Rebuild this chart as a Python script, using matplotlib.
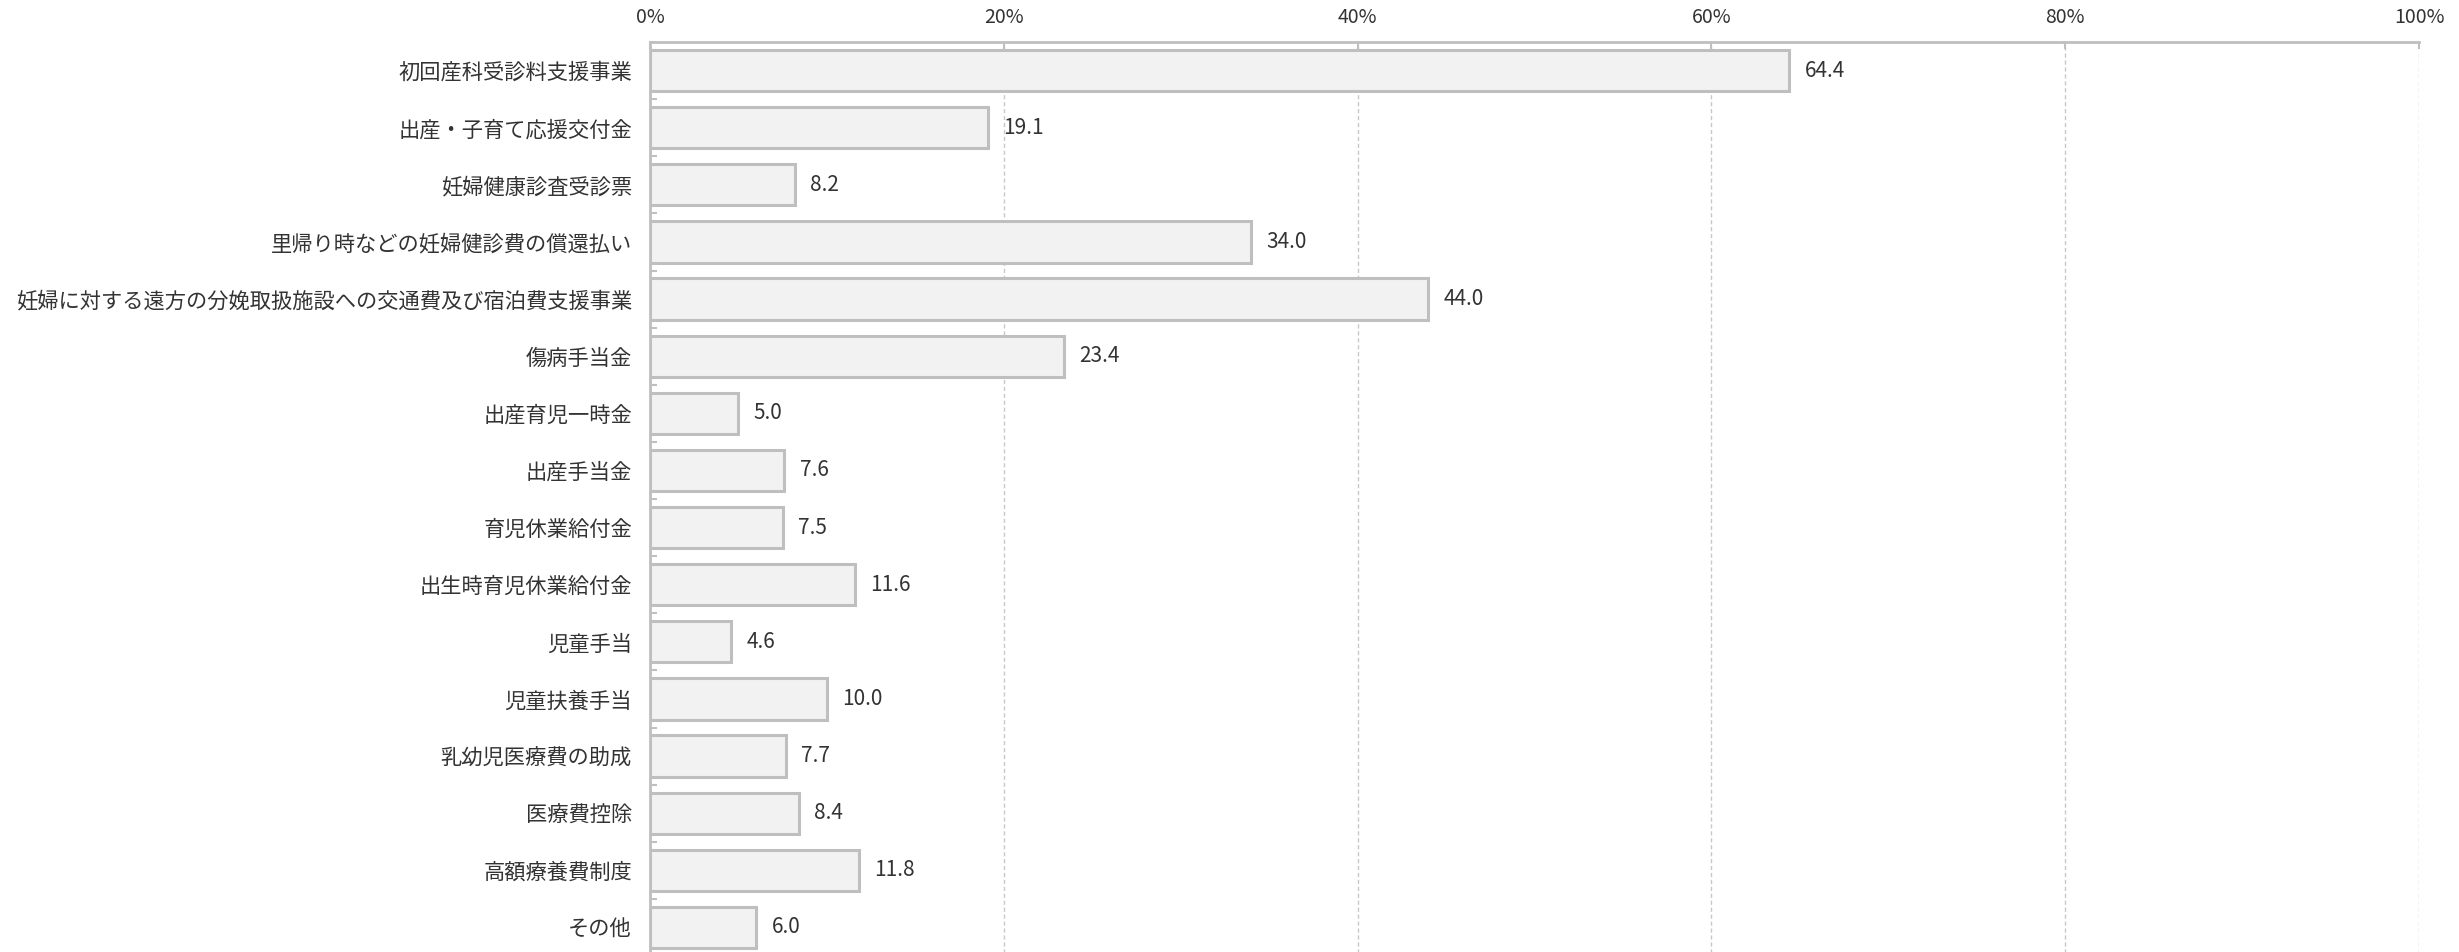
import matplotlib
matplotlib.use('Agg')
import matplotlib.pyplot as plt
from matplotlib.ticker import MultipleLocator, FixedLocator, PercentFormatter
import numpy as np

plt.rcParams['font.family'] = ['Noto Sans CJK JP', 'DejaVu Sans']

categories = [
	'初回産科受診料支援事業',
	'出産・子育て応援交付金',
	'妊婦健康診査受診票',
	'里帰り時などの妊婦健診費の償還払い',
	'妊婦に対する遠方の分娩取扱施設への交通費及び宿泊費支援事業',
	'傷病手当金',
	'出産育児一時金',
	'出産手当金',
	'育児休業給付金',
	'出生時育児休業給付金',
	'児童手当',
	'児童扶養手当',
	'乳幼児医療費の助成',
	'医療費控除',
	'高額療養費制度',
	'その他',
]
values = [64.4, 19.1, 8.2, 34.0, 44.0, 23.4, 5.0, 7.6, 7.5, 11.6, 4.6, 10.0, 7.7, 8.4, 11.8, 6.0]

TEXT_COLOR = '#333333'
LINE_COLOR = '#bfbfbf'

fig = plt.figure(figsize=(24.59, 9.52), dpi=100)
# axes box in pixels: left 650, right 2419, top 42; runs a little past the bottom edge
ax = fig.add_axes([650 / 2459, 1 - 956 / 952, (2419 - 650) / 2459, (956 - 42) / 952])

y = np.arange(len(categories))
bars = ax.barh(y, values, height=0.72, color='#f2f2f2', edgecolor=LINE_COLOR, linewidth=2.2, zorder=3)

ax.set_xlim(0, 100)
ax.set_ylim(len(categories) - 0.5, -0.5)

# x axis on top
ax.xaxis.set_ticks_position('top')
ax.xaxis.set_major_locator(MultipleLocator(20))
ax.xaxis.set_major_formatter(PercentFormatter(decimals=0))
ax.tick_params(axis='x', direction='in', length=5, width=1.5, color=LINE_COLOR,
               labelsize=14, labelcolor=TEXT_COLOR, pad=10)

# category labels, small ticks between categories
ax.set_yticks(y)
ax.set_yticklabels(categories)
ax.yaxis.set_minor_locator(FixedLocator(np.arange(len(categories) + 1) - 0.5))
ax.tick_params(axis='y', which='major', length=0, labelsize=15.3, labelcolor=TEXT_COLOR, pad=13)
ax.tick_params(axis='y', which='minor', direction='in', length=5, width=1.5, color=LINE_COLOR)

ax.grid(axis='x', color='#c8c8c8', linestyle=(0, (3, 2)), linewidth=1, zorder=0)
for side in ['top', 'left']:
	ax.spines[side].set_color(LINE_COLOR)
	ax.spines[side].set_linewidth(2)
for side in ['right', 'bottom']:
	ax.spines[side].set_visible(False)

for rect, val in zip(bars, values):
	ax.annotate('{:.1f}'.format(val), xy=(rect.get_width(), rect.get_y() + rect.get_height() / 2),
	            xytext=(11, 0), textcoords='offset points', ha='left', va='center',
	            fontsize=15, color=TEXT_COLOR)

fig.savefig('out.png', dpi=100)
